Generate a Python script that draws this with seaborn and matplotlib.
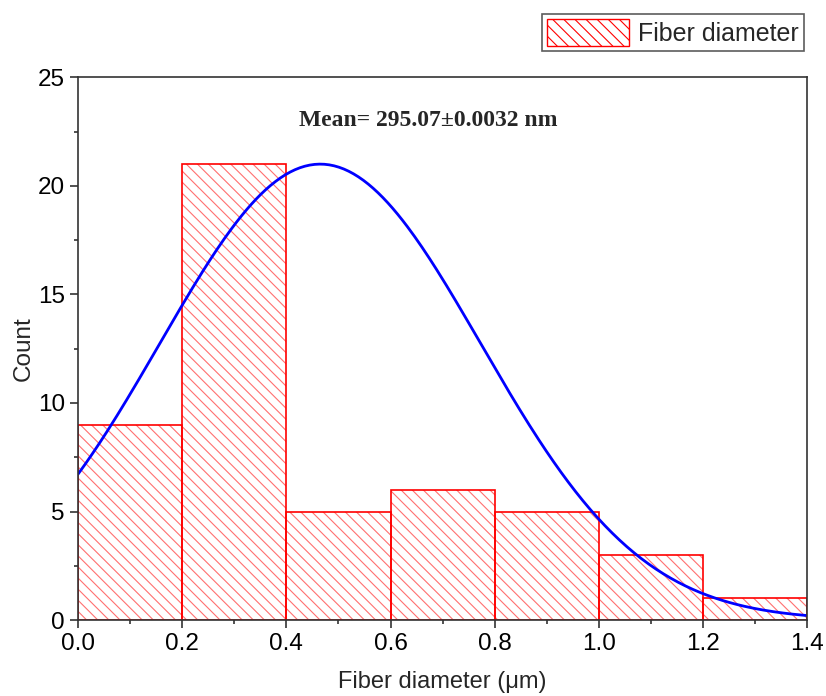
import numpy as np
import pandas as pd
import seaborn as sns
import matplotlib
matplotlib.use("Agg")
import matplotlib.pyplot as plt
from matplotlib.ticker import MultipleLocator

# Data
bin_edges = [0.0, 0.2, 0.4, 0.6, 0.8, 1.0, 1.2, 1.4]
bin_centers = [0.1, 0.3, 0.5, 0.7, 0.9, 1.1, 1.3]
counts = [9, 21, 5, 6, 5, 3, 1]
# Normal fit parameters
fit_peak = 21.0
fit_mean = 0.465
fit_sd = 0.308

sns.set_style("ticks")
plt.rcParams['font.family'] = ['Liberation Sans', 'DejaVu Sans']
plt.rcParams['hatch.linewidth'] = 0.8

fig = plt.figure(figsize=(8.26, 6.96), dpi=100)
ax = fig.add_axes([0.0944, 0.109, 0.883, 0.780])

df = pd.DataFrame({"x": bin_centers, "w": counts})
sns.histplot(data=df, x="x", weights="w", bins=bin_edges, ax=ax,
             stat="count", element="bars", fill=True,
             color="white", linewidth=0, alpha=1.0)
for p in ax.patches:
    p.set_facecolor('white')
    p.set_hatch('\\\\\\')
    p.set_edgecolor('#ff7070')
    p.set_linewidth(0)
# red outline pass
sns.histplot(data=df, x="x", weights="w", bins=bin_edges, ax=ax,
             stat="count", element="bars", fill=False,
             color="#ff0000", linewidth=1.2)

xs = np.linspace(0.0, 1.4, 300)
ys = fit_peak * np.exp(-(xs - fit_mean) ** 2 / (2 * fit_sd ** 2))
sns.lineplot(x=xs, y=ys, ax=ax, color="#0000ff", linewidth=2)

ax.set_xlim(0, 1.4)
ax.set_ylim(0, 25)
ax.xaxis.set_major_locator(MultipleLocator(0.2))
ax.xaxis.set_minor_locator(MultipleLocator(0.1))
ax.yaxis.set_major_locator(MultipleLocator(5))
ax.yaxis.set_minor_locator(MultipleLocator(2.5))
ax.xaxis.set_major_formatter(matplotlib.ticker.FormatStrFormatter('%.1f'))
ax.tick_params(which='major', direction='out', length=6, width=1.2, labelsize=17.5, colors='#333333', labelcolor='black')
ax.tick_params(which='minor', direction='out', length=3, width=1.2, colors='#333333')
for s in ax.spines.values():
    s.set_color('#333333')
    s.set_linewidth(1.2)

ax.set_xlabel("Fiber diameter (\u03bcm)", fontsize=17, labelpad=11)
ax.set_ylabel("Count", fontsize=17.5, labelpad=2)

ax.text(0.672, 23.0, "Mean= 295.07\u00b10.0032 nm", ha='center', va='center',
        fontsize=17, fontweight='bold', family='Liberation Serif')

from matplotlib.patches import Patch
handle = Patch(facecolor='white', edgecolor='#ff0000', hatch='\\\\\\', linewidth=1.0)
leg = fig.legend(handles=[handle], labels=["Fiber diameter"], loc='upper right',
                 bbox_to_anchor=(0.973, 0.98), fontsize=18, frameon=True,
                 fancybox=False, edgecolor='#333333', handlelength=3.3, handleheight=1.3,
                 borderpad=0.2, handletextpad=0.35, borderaxespad=0)
leg.get_frame().set_linewidth(1.2)

fig.savefig("out.png", dpi=100)
